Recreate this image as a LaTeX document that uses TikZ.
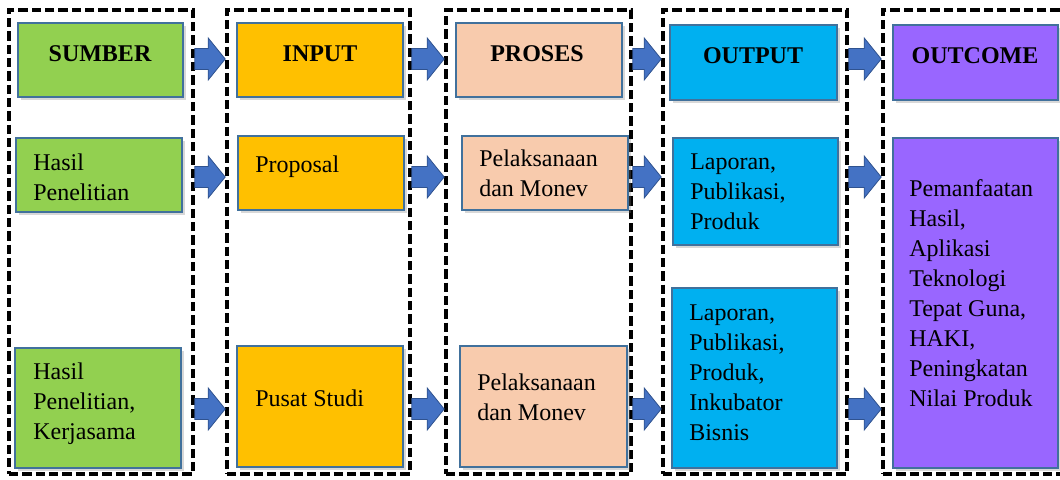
\documentclass[tikz,border=0pt]{standalone}
\usepackage{fontspec}
\setmainfont{Liberation Serif}
\usetikzlibrary{fit,calc,shadows}
\definecolor{cgreen}{HTML}{92D050}
\definecolor{corange}{HTML}{FFC000}
\definecolor{cpeach}{HTML}{F8CBAD}
\definecolor{ccyan}{HTML}{00B0F0}
\definecolor{cpurple}{HTML}{9966FF}
\definecolor{boxedge}{HTML}{41719C}
\definecolor{arrowblue}{HTML}{4472C4}
\definecolor{arrowedge}{HTML}{2F528F}
\begin{document}
\begin{tikzpicture}[x=0.75pt,y=-0.75pt,
 box/.style={draw=boxedge, line width=1pt, inner sep=0pt,
   drop shadow={opacity=0.3, shadow xshift=2pt, shadow yshift=-2pt}},
 cont/.style={draw=black, line width=2.7pt, dash pattern=on 7pt off 3pt, inner sep=0pt},
 body/.style={font=\fontsize{18}{22.5}\selectfont, align=left, anchor=base west, inner sep=0pt},
 head/.style={font=\fontsize{18}{22.5}\selectfont\bfseries, anchor=base, inner sep=0pt},
 barrow/.style={fill=arrowblue, draw=arrowedge, line width=0.6pt,
   to path={let \p1=(\tikztostart), \p2=(\tikztotarget) in
     (\x1,\y1+7.9pt) -- (\x2-12.75pt,\y1+7.9pt) -- (\x2-12.75pt,\y1+15.75pt) -- (\x2,\y1)
     -- (\x2-12.75pt,\y1-15.75pt) -- (\x2-12.75pt,\y1-7.9pt) -- (\x1,\y1-7.9pt) -- cycle}}]
\useasboundingbox (0,0) rectangle (1060,479);
\fill[white] (0,0) rectangle (1060,479);

% containers
\node[cont, fit={(9,10) (193,474)}] (c1) {};
\node[cont, fit={(227,10) (410,474)}] (c2) {};
\node[cont, fit={(446,10) (631,474)}] (c3) {};
\node[cont, fit={(663,10) (847,474)}] (c4) {};
\node[cont, fit={(883,10) (1066,474)}] (c5) {};

% boxes
\node[box, fill=cgreen, fit={(18,23) (183,97)}] (s0) {};
\node[box, fill=cgreen, fit={(16,138) (182,212)}] (s1) {};
\node[box, fill=cgreen, fit={(15,348) (181,468)}] (s2) {};

\node[box, fill=corange, fit={(237,23) (403,97)}] (i0) {};
\node[box, fill=corange, fit={(238,136) (404,210)}] (i1) {};
\node[box, fill=corange, fit={(237,346) (403,467)}] (i2) {};

\node[box, fill=cpeach, fit={(456,23) (622,97)}] (p0) {};
\node[box, fill=cpeach, fit={(462,136) (628,210)}] (p1) {};
\node[box, fill=cpeach, fit={(460,346) (627,467)}] (p2) {};

\node[box, fill=ccyan, fit={(670,25) (837,100)}] (o0) {};
\node[box, fill=ccyan, fit={(673,138) (838,245)}] (o1) {};
\node[box, fill=ccyan, fit={(672,288) (837,468)}] (o2) {};

\node[box, fill=cpurple, fit={(893,25) (1058,100)}] (u0) {};
\node[box, fill=cpurple, fit={(893,138) (1058,468)}] (u1) {};

% texts (base anchor = baseline of the last line)
\node[head] (ts0) at (100,61) {SUMBER};
\node[head] (ti0) at (320,61) {INPUT};
\node[head] (tp0) at (537,61) {PROSES};
\node[head] (to0) at (753,63) {OUTPUT};
\node[head] (tu0) at (975,63) {OUTCOME};

\node[body] (ts1) at (33,200) {Hasil\\Penelitian};
\node[body] (ts2) at (33,439) {Hasil\\Penelitian,\\Kerjasama};
\node[body] (ti1) at (255,172) {Proposal};
\node[body] (ti2) at (255,406) {Pusat Studi};
\node[body] (tp1) at (479,196) {Pelaksanaan\\dan Monev};
\node[body] (tp2) at (477,420) {Pelaksanaan\\dan Monev};
\node[body] (to1) at (690,229) {Laporan,\\Publikasi,\\Produk};
\node[body] (to2) at (689,440) {Laporan,\\Publikasi,\\Produk,\\Inkubator\\Bisnis};
\node[body] (tu1) at (909,406) {Pemanfaatan\\Hasil,\\Aplikasi\\Teknologi\\Tepat Guna,\\HAKI,\\Peningkatan\\Nilai Produk};

% rows
\coordinate (r1) at (0,59);
\coordinate (r2) at (0,177);
\coordinate (r3) at (0,409);

% arrows
\draw[barrow] (c1.east |- r1) to (c2.west |- r1);
\draw[barrow] (c2.east |- r1) to (c3.west |- r1);
\draw[barrow] (c3.east |- r1) to (c4.west |- r1);
\draw[barrow] (c4.east |- r1) to (c5.west |- r1);
\draw[barrow] (c1.east |- r2) to (c2.west |- r2);
\draw[barrow] (c2.east |- r2) to (c3.west |- r2);
\draw[barrow] (c3.east |- r2) to (c4.west |- r2);
\draw[barrow] (c4.east |- r2) to (c5.west |- r2);
\draw[barrow] (c1.east |- r3) to (c2.west |- r3);
\draw[barrow] (c2.east |- r3) to (c3.west |- r3);
\draw[barrow] (c3.east |- r3) to (c4.west |- r3);
\draw[barrow] (c4.east |- r3) to (c5.west |- r3);
\end{tikzpicture}
\end{document}
